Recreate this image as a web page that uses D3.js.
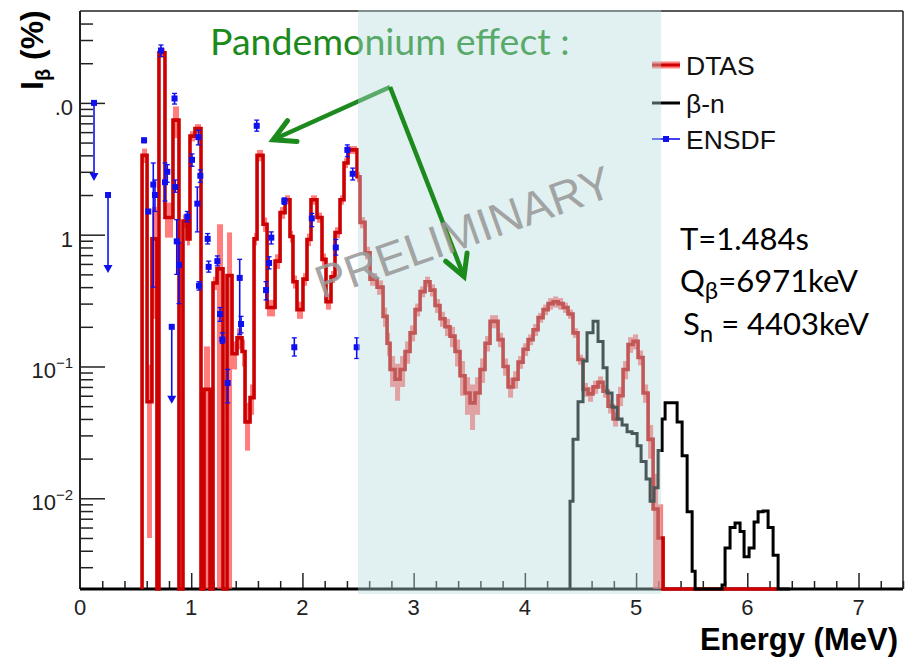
<!DOCTYPE html>
<html><head><meta charset="utf-8">
<script src="https://cdn.jsdelivr.net/npm/d3@7/dist/d3.min.js"></script>
<style>body{margin:0;background:#fff}svg{display:block}</style>
</head><body><svg id="c" width="912" height="659"></svg>
<script>
// ---------------- DATA ----------------
// DTAS beta intensity histogram (bin left edges in MeV, last entry = right edge of last bin)
const dtasEdges = [0.558,0.603,0.647,0.692,0.710,0.764,0.836,0.890,0.926,0.962,0.989,1.034,1.088,1.115,1.169,1.196,1.232,1.286,1.322,1.367,1.412,1.457,1.484,1.529,1.565,1.592,1.646,1.682,1.754,1.799,1.844,1.888,1.915,1.951,2.005,2.041,2.077,2.131,2.176,2.212,2.257,2.293,2.338,2.374,2.410,2.491,2.518,2.563,2.608,2.671,2.725,2.761,2.788,2.833,2.878,2.923,2.968,3.013,3.058,3.103,3.147,3.192,3.237,3.282,3.327,3.372,3.417,3.462,3.507,3.552,3.597,3.642,3.687,3.759,3.804,3.849,3.894,3.939,3.984,4.029,4.074,4.119,4.164,4.209,4.254,4.299,4.344,4.388,4.433,4.478,4.523,4.568,4.613,4.658,4.703,4.748,4.793,4.838,4.883,4.928,4.973,5.018,5.063,5.108,5.153,5.198,5.243,6.268];
const dtasValues = [4.0,0.054,0.93,0,24,1.35,7.4,0,1.27,0.93,5.6,6.4,0,0.067,0,0.43,0.55,0,0.49,0.125,0.165,0.13,0.038,0.058,0.93,4.0,1.2,0.28,0.63,1.47,1.84,0.97,0.44,0.27,0.46,0.92,1.84,1.35,0.65,0.31,0.48,1.04,1.84,3.5,4.4,2.75,1.24,0.73,0.46,0.40,0.24,0.15,0.095,0.08,0.095,0.13,0.18,0.27,0.37,0.44,0.38,0.29,0.23,0.20,0.17,0.13,0.085,0.063,0.053,0.063,0.095,0.15,0.22,0.16,0.10,0.07,0.08,0.108,0.135,0.16,0.19,0.235,0.27,0.30,0.31,0.30,0.28,0.25,0.18,0.113,0.067,0.062,0.07,0.076,0.065,0.05,0.04,0.06,0.095,0.147,0.155,0.117,0.063,0.028,0.0083,0.005,0];
const dtasErrors = [0.5,0.049,0.7,0,2,0.4,2,0.87,0.15,0.1,0.5,0.5,0,0.075,0,0.05,0.65,0,0.55,0.03,0.03,0.03,0.015,0.015,0.1,0.4,0.15,0.04,0.08,0.15,0.15,0.1,0.05,0.04,0.05,0.1,0.15,0.12,0.07,0.04,0.05,0.1,0.15,0.3,0.3,0.25,0.12,0.08,0.05,0.05,0.04,0.03,0.025,0.025,0.025,0.025,0.025,0.03,0.035,0.04,0.04,0.035,0.03,0.03,0.03,0.03,0.025,0.02,0.02,0.02,0.02,0.02,0.025,0.02,0.015,0.012,0.012,0.012,0.015,0.015,0.02,0.02,0.025,0.03,0.03,0.03,0.025,0.02,0.015,0.01,0.008,0.008,0.008,0.008,0.007,0.006,0.005,0.01,0.015,0.02,0.02,0.015,0.01,0.008,0.007,0.004,0];

// beta-delayed neutron spectrum (bin left edges in MeV, last = right edge)
const bnEdges = [4.406,4.433,4.478,4.523,4.559,4.613,4.658,4.703,4.739,4.784,4.829,4.874,4.919,4.964,5.009,5.045,5.090,5.126,5.162,5.198,5.234,5.261,5.369,5.414,5.459,5.504,5.531,5.773,5.800,5.845,5.890,5.935,5.971,6.016,6.061,6.097,6.142,6.187,6.232,6.277,6.385];
const bnValues = [0.0095,0.028,0.054,0.11,0.18,0.22,0.155,0.098,0.063,0.049,0.04,0.036,0.032,0.031,0.025,0.019,0.014,0.0095,0.012,0.023,0.04,0.053,0.038,0.021,0.0079,0.0028,0,0.0022,0.0042,0.006,0.0065,0.0056,0.0036,0.0042,0.0066,0.0079,0.008,0.006,0.0037,0];

// ENSDF points (energy MeV, intensity %, lower and upper error limits)
const ensdfE  = [0.576,0.614,0.659,0.674,0.728,0.764,0.785,0.850,0.857,0.870,0.890,0.965,1.007,1.064,1.082,1.055,1.070,1.148,1.157,1.235,1.259,1.280,1.328,1.436,1.448,1.589,1.720,1.700,1.673,1.837,2.084,1.927,2.300,2.404,2.452,2.488];
const ensdfV  = [5.2,1.5,2.4,2.0,25,2.5,3.0,10.8,2.3,0.89,0.59,1.37,3.7,5.5,2.8,1.72,0.41,0.93,0.57,0.63,0.25,0.16,0.075,0.47,0.21,6.7,0.95,0.61,0.38,1.8,1.33,0.14,0.8,4.4,2.9,0.14];
const ensdfLo = [5.0,1.45,0.40,1.5,22.5,1.8,2.5,9.8,2.1,0.5,0.3,1.25,3.3,4.8,2.5,1.05,0.38,0.85,0.52,0.58,0.22,0.15,0.053,0.175,0.18,6.1,0.85,0.55,0.32,1.7,1.15,0.12,0.7,3.9,2.6,0.115];
const ensdfHi = [5.4,1.55,3.5,2.6,27.5,3.5,3.4,11.8,2.6,1.3,0.87,1.5,4.1,6.2,3.1,2.3,0.44,1.02,0.63,0.69,0.28,0.18,0.095,0.65,0.24,7.4,1.05,0.68,0.44,1.9,1.45,0.165,0.92,4.8,3.2,0.165];
// ENSDF upper limits (energy, value, arrow end)
const ulE  = [0.126,0.252,0.825];
const ulV  = [10,2.0,0.2];
const ulTo = [2.6,0.52,0.053];

// axes
const xMajor = [0,1,2,3,4,5,6,7];
const yMajor = [0.01,0.1,1,10];
const yLabels = ["10\u22122","10\u22121","1",".0"];
const shadeRange = [2.5,5.225];
// annotation arrows in data coordinates: [E, value]
const arrowFrom = [2.788,13.2];
const arrowTo1 = [1.736,5.25];
const arrowTo2 = [3.453,0.48];

// ---------------- DRAW ----------------
const svg = d3.select("#c");
const L=80,R=903,T=11,B=589;
const x = d3.scaleLinear().domain([0,7.4]).range([L,R]);
const yMin=0.00205, yMax=49.8;
const y = d3.scaleLog().domain([yMin,yMax]).range([B,T]);
const yy = v => v>yMin ? y(v) : B;

svg.append("rect").attr("width",912).attr("height",659).attr("fill","#fff");
svg.append("clipPath").attr("id","clip").append("rect").attr("x",L).attr("y",T).attr("width",R-L).attr("height",B-T+2);

// Axes (ticks)
const xMinor = d3.range(0,7.41,0.2).map(d=>+d.toFixed(1)).filter(d=>Math.abs(d-Math.round(d))>1e-6);
const gx = svg.append("g").attr("transform",`translate(0,${B})`);
gx.call(d3.axisBottom(x).tickValues(xMinor).tickSize(-8).tickFormat("").tickSizeOuter(0));
gx.append("g").call(d3.axisBottom(x).tickValues(xMajor.filter(d=>d>0)).tickSize(-16).tickFormat("").tickSizeOuter(0));
gx.selectAll(".domain").remove();
gx.selectAll("line").attr("stroke","#222").attr("stroke-width",1.5);

const yMinor=[];
for(let e=-3;e<=1;e++) for(let k=2;k<=9;k++){const v=k*Math.pow(10,e); if(v>yMin&&v<yMax) yMinor.push(v);}
const gy = svg.append("g").attr("transform",`translate(${L},0)`);
gy.call(d3.axisRight(y).tickValues(yMinor).tickSize(13).tickFormat("").tickSizeOuter(0));
gy.append("g").call(d3.axisRight(y).tickValues(yMajor).tickSize(25).tickFormat("").tickSizeOuter(0));
gy.selectAll(".domain").remove();
gy.selectAll("line").attr("stroke","#222").attr("stroke-width",1.5);

// frame
svg.append("line").attr("x1",L).attr("x2",R).attr("y1",T).attr("y2",T).attr("stroke","#222").attr("stroke-width",1.5);
svg.append("line").attr("x1",R).attr("x2",R).attr("y1",T).attr("y2",B).attr("stroke","#222").attr("stroke-width",1.5);
svg.append("line").attr("x1",L).attr("x2",L).attr("y1",T).attr("y2",B).attr("stroke","#222").attr("stroke-width",2);
// bottom axis line (thick)
svg.append("line").attr("x1",L).attr("x2",R).attr("y1",B).attr("y2",B).attr("stroke","#000").attr("stroke-width",3);

// tick labels
svg.append("g").selectAll("text").data(xMajor).join("text")
  .attr("x",d=>x(d)).attr("y",B+26).attr("text-anchor","middle")
  .attr("font-family","Liberation Sans, Arial, sans-serif").attr("font-size",22).attr("fill","#222").text(d=>d);
const ylab = svg.append("g").attr("font-family","Liberation Sans, Arial, sans-serif").attr("fill","#222");
yMajor.forEach((v,i)=>{
  const lab=yLabels[i];
  const t=ylab.append("text").attr("x",73).attr("y",y(v)+12).attr("text-anchor","end").attr("font-size",22);
  if(lab.startsWith("10\u2212")){
    t.append("tspan").text("10");
    t.append("tspan").attr("font-size",15).attr("dy",-10).text(lab.slice(2));
  } else t.text(lab);
});

const plot = svg.append("g").attr("clip-path","url(#clip)");

// DTAS error band
plot.append("g").selectAll("rect").data(dtasValues.map((v,i)=>({v,i,e:dtasErrors[i]})).filter(d=>d.e>0)).join("rect")
  .attr("x",d=>x(dtasEdges[d.i])).attr("width",d=>x(dtasEdges[d.i+1])-x(dtasEdges[d.i]))
  .attr("y",d=>yy(d.v+d.e)).attr("height",d=>yy(d.v-d.e)-yy(d.v+d.e)+0.01)
  .attr("fill","rgb(255,70,70)").attr("fill-opacity",0.7);

function stepPath(edges, vals){
  let p=`M${x(edges[0])},${B}`;
  vals.forEach((v,i)=>{ p+=`V${yy(v)}H${x(edges[i+1])}`; });
  return p+`V${B}`;
}
plot.append("path").attr("d",stepPath(dtasEdges,dtasValues)).attr("fill","none").attr("stroke","#cc0000").attr("stroke-width",3.6).attr("stroke-linejoin","miter");
plot.append("path").attr("d",stepPath(bnEdges,bnValues)).attr("fill","none").attr("stroke","#000").attr("stroke-width",3).attr("stroke-linejoin","miter");

// ENSDF
const blue="#1010ee";
const ens = plot.append("g");
ensdfE.forEach((e,i)=>{
  const cx=x(e);
  ens.append("line").attr("x1",cx).attr("x2",cx).attr("y1",y(ensdfLo[i])).attr("y2",y(ensdfHi[i])).attr("stroke",blue).attr("stroke-width",1.6);
  [ensdfLo[i],ensdfHi[i]].forEach(v=>ens.append("line").attr("x1",cx-2.5).attr("x2",cx+2.5).attr("y1",y(v)).attr("y2",y(v)).attr("stroke",blue).attr("stroke-width",1.3));
  ens.append("rect").attr("x",cx-3).attr("y",y(ensdfV[i])-3).attr("width",6).attr("height",6).attr("fill",blue);
});
ulE.forEach((e,i)=>{
  const cx=x(e), y0=y(ulV[i]), y1=y(ulTo[i]);
  ens.append("line").attr("x1",cx).attr("x2",cx).attr("y1",y0).attr("y2",y1-4).attr("stroke",blue).attr("stroke-width",1.6);
  ens.append("rect").attr("x",cx-3).attr("y",y0-3).attr("width",6).attr("height",6).attr("fill",blue);
  ens.append("path").attr("d",`M${cx-4.5},${y1-7}L${cx+4.5},${y1-7}L${cx},${y1+1}Z`).attr("fill",blue);
});

// Legend
const lg = svg.append("g").attr("font-family","Liberation Sans, Arial, sans-serif").attr("font-size",26.5).attr("fill","#111");
const lx0=652, lx1=680;
[["DTAS",65],["\u03b2-n",103],["ENSDF",139]].forEach(([t,ly],i)=>{
  if(i===0){
    lg.append("rect").attr("x",lx0).attr("y",ly-3.5).attr("width",lx1-lx0).attr("height",7).attr("fill","rgb(255,70,70)").attr("fill-opacity",0.7);
    lg.append("line").attr("x1",lx0).attr("x2",lx1).attr("y1",ly).attr("y2",ly).attr("stroke","#cc0000").attr("stroke-width",3);
  } else if(i===1){
    lg.append("line").attr("x1",lx0).attr("x2",lx1).attr("y1",ly).attr("y2",ly).attr("stroke","#000").attr("stroke-width",3);
  } else {
    lg.append("line").attr("x1",lx0).attr("x2",lx1).attr("y1",ly).attr("y2",ly).attr("stroke",blue).attr("stroke-width",1.6);
    lg.append("rect").attr("x",(lx0+lx1)/2-3).attr("y",ly-3).attr("width",6).attr("height",6).attr("fill",blue);
  }
  lg.append("text").attr("x",686).attr("y",ly+9.5).text(t);
});

// annotation text and first arrow (under shade)
const green="rgb(28,138,28)";
svg.append("text").attr("x",210).attr("y",55).attr("font-family","Lato, 'Open Sans', sans-serif").attr("font-size",37.5).attr("fill",green).text("Pandemonium effect :");

function arrow(g, from, to){
  const x0=x(from[0]), y0=y(from[1]), x1=x(to[0]), y1=y(to[1]);
  const ang=Math.atan2(y0-y1,x0-x1), len=24, sp=0.5;
  g.append("line").attr("x1",x0).attr("y1",y0).attr("x2",x1).attr("y2",y1).attr("stroke",green).attr("stroke-width",4.5);
  g.append("path").attr("d",`M${x1+len*Math.cos(ang+sp)},${y1+len*Math.sin(ang+sp)}L${x1},${y1}L${x1+len*Math.cos(ang-sp)},${y1+len*Math.sin(ang-sp)}`)
    .attr("fill","none").attr("stroke",green).attr("stroke-width",5).attr("stroke-linejoin","miter").attr("stroke-linecap","round");
}
arrow(svg.append("g"), arrowFrom, arrowTo1);

// shaded preliminary region
svg.append("rect").attr("x",x(shadeRange[0])).attr("y",T-1).attr("width",x(shadeRange[1])-x(shadeRange[0])).attr("height",B-T+6)
  .attr("fill","rgb(180,217,220)").attr("fill-opacity",0.4);

arrow(svg.append("g"), arrowFrom, arrowTo2);

// PRELIMINARY watermark
svg.append("text").attr("transform","translate(322,299) rotate(-19.5)").attr("font-family","Liberation Sans, Arial, sans-serif")
  .attr("font-size",46).attr("fill","#9a9a9a").attr("fill-opacity",0.9).text("PRELIMINARY");

// right-hand info text
const info = svg.append("g").attr("font-family","Lato, 'Open Sans', sans-serif").attr("font-size",31).attr("fill","#000");
info.append("text").attr("x",680).attr("y",250).text("T=1.484s");
const q=info.append("text").attr("x",680).attr("y",292);
q.append("tspan").text("Q"); q.append("tspan").attr("font-size",24).attr("dy",7).text("\u03b2"); q.append("tspan").attr("dy",-7).text("=6971keV");
const s=info.append("text").attr("x",683).attr("y",335);
s.append("tspan").text("S"); s.append("tspan").attr("font-size",24).attr("dy",7).text("n"); s.append("tspan").attr("dy",-7).text(" = 4403keV");

// axis titles
svg.append("text").attr("x",898).attr("y",650).attr("text-anchor","end").attr("font-family","Liberation Sans, Arial, sans-serif")
  .attr("font-weight","bold").attr("font-size",31).attr("fill","#000").text("Energy (MeV)");
const yt = svg.append("text").attr("transform","translate(43,90) rotate(-90)").attr("font-family","Liberation Sans, Arial, sans-serif")
  .attr("font-weight","bold").attr("font-size",32).attr("fill","#000");
yt.append("tspan").text("I"); yt.append("tspan").attr("font-size",20).attr("dy",7).text("\u03b2"); yt.append("tspan").attr("dy",-7).text(" (%)");
</script></body></html>
